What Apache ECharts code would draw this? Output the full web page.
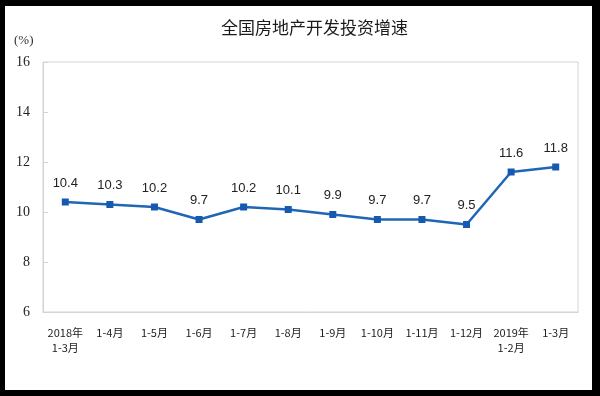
<!DOCTYPE html>
<html><head><meta charset="utf-8">
<script src="https://cdn.jsdelivr.net/npm/echarts@6/dist/echarts.min.js"></script>
<style>
html,body{margin:0;padding:0;background:#000;}
#bg{position:absolute;left:5px;top:6px;width:587px;height:384px;background:#fff;}
#c{position:absolute;left:0;top:0;width:600px;height:396px;}
</style></head><body>
<div id="bg"></div>
<div id="c"></div>
<script>
const title = '全国房地产开发投资增速';
const unitLabel = '(%)';
const categories = ['2018年\n1-3月','1-4月','1-5月','1-6月','1-7月','1-8月','1-9月','1-10月','1-11月','1-12月','2019年\n1-2月','1-3月'];
const growth = [10.4, 10.3, 10.2, 9.7, 10.2, 10.1, 9.9, 9.7, 9.7, 9.5, 11.6, 11.8];
const yMin = 6, yMax = 16, yStep = 2;

const chart = echarts.init(document.getElementById('c'), null, {renderer:'canvas'});
chart.setOption({
  backgroundColor: 'transparent',
  animation: false,
  graphic: [
    {type:'text', left: 315 - 94, top: 19, style:{text: title, font: '17px "Noto Sans CJK SC"', fill:'#1a1a1a'}},
    {type:'text', left: 14, top: 34, style:{text: unitLabel, font: '13px "Liberation Serif"', fill:'#333'}}
  ],
  grid: {left: 43, right: 22, top: 62, bottom: 84, show: true, borderColor: '#d4d4d4', borderWidth: 1},
  xAxis: {
    type: 'category', data: categories, boundaryGap: true,
    axisLine: {lineStyle:{color:'#d4d4d4'}},
    axisTick: {inside: true, length: 4, lineStyle:{color:'#d4d4d4'}},
    axisLabel: {margin: 13, fontSize: 11, lineHeight: 15, color:'#222', fontFamily:'"Noto Sans CJK SC"', interval: 0}
  },
  yAxis: {
    type: 'value', min: yMin, max: yMax, interval: yStep,
    axisLine: {show: true, lineStyle:{color:'#d4d4d4'}},
    axisTick: {show: true, inside: true, length: 5, lineStyle:{color:'#d4d4d4'}},
    splitLine: {show: false},
    axisLabel: {margin: 13, fontSize: 14, color:'#222', fontFamily:'"Liberation Serif"'}
  },
  series: [{
    type: 'line', data: growth,
    symbol: 'rect', symbolSize: 7,
    lineStyle: {color:'#1f66b5', width: 2.5},
    itemStyle: {color:'#1559b0'},
    label: {show: true, position: 'top', distance: 9, fontSize: 13, color:'#222', fontFamily:'"Liberation Sans"'}
  }]
});
</script>
</body></html>
